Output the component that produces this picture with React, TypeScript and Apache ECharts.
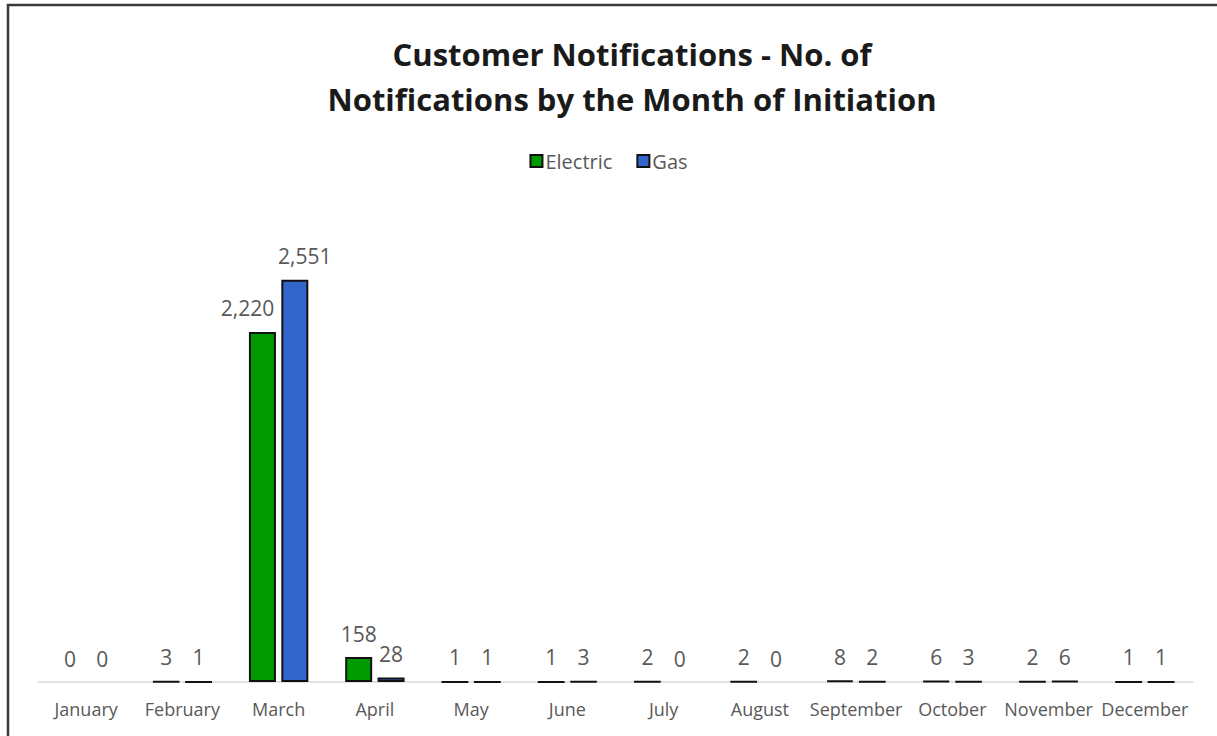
import React, { useEffect, useRef } from "react";
import * as echarts from "echarts";

const months = ["January", "February", "March", "April", "May", "June", "July", "August", "September", "October", "November", "December"];
const electric = [0, 3, 2220, 158, 1, 1, 2, 2, 8, 6, 2, 1];
const gas = [0, 1, 2551, 28, 1, 3, 0, 0, 2, 3, 6, 1];

export default function App() {
  const ref = useRef<HTMLDivElement>(null);
  useEffect(() => {
    document.body.style.margin = "0";
    const chart = echarts.init(ref.current!, null, { renderer: "svg" });
    const labelStyle = {
      show: true,
      position: "top",
      distance: 13,
      color: "#595959",
      fontSize: 21,
      fontFamily: "Open Sans",
      formatter: (p: any) => Number(p.value).toLocaleString("en-US"),
    };
    // March labels are nudged sideways (as in the original) to avoid overlapping
    const toData = (arr: number[], marchShift: number) =>
      arr.map((v, i) => {
        if (v === 0) return { value: v, itemStyle: { borderWidth: 0 } };
        if (i === 2) return { value: v, label: { offset: [marchShift, 0] } };
        return v;
      });
    chart.setOption({
      animation: false,
      backgroundColor: "#ffffff",
      title: {
        text: "Customer Notifications - No. of\nNotifications by the Month of Initiation",
        left: 627,
        textAlign: "center",
        top: 26,
        textStyle: {
          fontFamily: "Open Sans",
          fontWeight: "bold",
          fontSize: 31,
          lineHeight: 45,
          color: "#1a1a1a",
        },
      },
      legend: {
        top: 146,
        left: "center",
        itemWidth: 12,
        itemHeight: 12,
        itemGap: 24,
        icon: "rect",
        textStyle: { color: "#595959", fontSize: 20, fontFamily: "Open Sans", padding: [0, 0, 0, -2] },
        data: ["Electric", "Gas"],
      },
      graphic: [
        {
          type: "rect",
          shape: { x: 8, y: 5, width: 1240, height: 760 },
          style: { fill: "none", stroke: "#3a3a3a", lineWidth: 2.5 },
          silent: true,
        },
      ],
      grid: { left: 38, right: 24, top: 209, bottom: 54, containLabel: false },
      xAxis: {
        type: "category",
        data: months,
        axisLine: { lineStyle: { color: "#d9d9d9", width: 1.5 } },
        axisTick: { show: false },
        axisLabel: { color: "#595959", fontSize: 18, fontFamily: "Open Sans", margin: 18, interval: 0 },
      },
      yAxis: {
        type: "value",
        min: 0,
        max: 3000,
        show: false,
        splitLine: { show: false },
      },
      series: [
        {
          name: "Electric",
          type: "bar",
          data: toData(electric, -15),
          barWidth: 27,
          barGap: "20%",
          itemStyle: { color: "#009900", borderColor: "#111111", borderWidth: 2 },
          label: labelStyle,
        },
        {
          name: "Gas",
          type: "bar",
          data: toData(gas, 10),
          barWidth: 27,
          barGap: "20%",
          itemStyle: { color: "#3366cc", borderColor: "#111111", borderWidth: 2 },
          label: labelStyle,
        },
      ],
    });
    return () => chart.dispose();
  }, []);
  return <div ref={ref} style={{ position: "absolute", left: 0, top: 0, width: 1217, height: 736 }} />;
}
